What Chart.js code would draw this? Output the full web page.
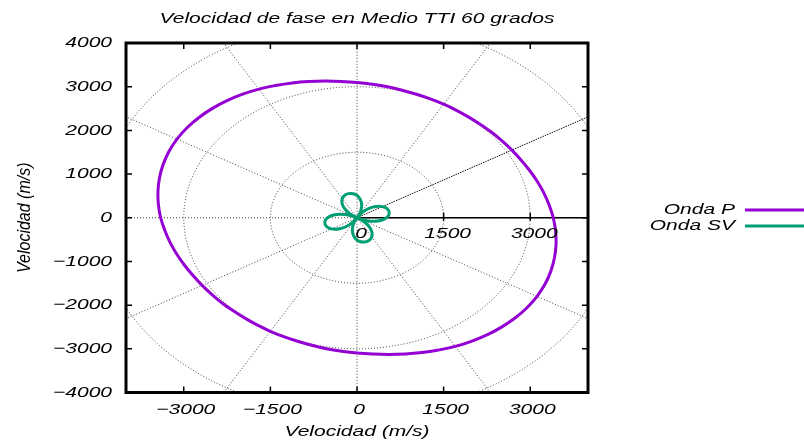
<!DOCTYPE html>
<html>
<head>
<meta charset="utf-8">
<script src="https://cdn.jsdelivr.net/npm/chart.js@4"></script>
<style>
  html, body { margin: 0; padding: 0; background: #ffffff; }
  #wrap { width: 804px; height: 443px; }
</style>
</head>
<body>
<div id="wrap"><canvas id="c" width="804" height="443"></canvas></div>
<script>
// Phase velocity (m/s) against propagation angle (degrees), TTI medium tilted 60 degrees
const anglesP = [0, 5, 10, 15, 20, 25, 30, 35, 40, 45, 50, 55, 60, 65, 70, 75, 80, 85,
                 90, 95, 100, 105, 110, 115, 120, 125, 130, 135, 140, 145, 150, 155, 160, 165, 170, 175,
                 180, 185, 190, 195, 200, 205, 210, 215, 220, 225, 230, 235, 240, 245, 250, 255, 260, 265,
                 270, 275, 280, 285, 290, 295, 300, 305, 310, 315, 320, 325, 330, 335, 340, 345, 350, 355, 360];
const velP    = [3400, 3340, 3285, 3230, 3178, 3133, 3097, 3066, 3043, 3022, 3008, 3002, 3000, 3002, 3008, 3022, 3043, 3066,
                 3097, 3133, 3178, 3230, 3285, 3340, 3400, 3452, 3500, 3540, 3572, 3593, 3600, 3593, 3572, 3540, 3500, 3452,
                 3400, 3340, 3285, 3230, 3178, 3133, 3097, 3066, 3043, 3022, 3008, 3002, 3000, 3002, 3008, 3022, 3043, 3066,
                 3097, 3133, 3178, 3230, 3285, 3340, 3400, 3452, 3500, 3540, 3572, 3593, 3600, 3593, 3572, 3540, 3500, 3452, 3400];

const anglesSV = [0, 5, 10, 15, 20, 25, 30, 35, 40, 45, 50, 55, 60, 65, 70, 75, 80, 85,
                  90, 95, 100, 105, 110, 115, 120, 125, 130, 135, 140, 145, 150, 155, 160, 165, 170, 175,
                  180, 185, 190, 195, 200, 205, 210, 215, 220, 225, 230, 235, 240, 245, 250, 255, 260, 265,
                  270, 275, 280, 285, 290, 295, 300, 305, 310, 315, 320, 325, 330, 335, 340, 345, 350, 355, 360];
const velSV    = [510, 545, 565, 572, 565, 545, 510, 458, 390, 310, 215, 110, 0, 110, 215, 310, 390, 458,
                  510, 545, 565, 572, 565, 545, 510, 458, 390, 310, 215, 110, 0, 110, 215, 310, 390, 458,
                  510, 545, 565, 572, 565, 545, 510, 458, 390, 310, 215, 110, 0, 110, 215, 310, 390, 458,
                  510, 545, 565, 572, 565, 545, 510, 458, 390, 310, 215, 110, 0, 110, 215, 310, 390, 458, 510];

const seriesNames = ['Onda P', 'Onda SV'];
const seriesColors = ['#9400d3', '#009e73'];

const xTicks = [-3000, -1500, 0, 1500, 3000];
const yTicks = [-4000, -3000, -2000, -1000, 0, 1000, 2000, 3000, 4000];
const rTicks = [0, 1500, 3000];
const gridRadii = [1500, 3000, 4500];
const spokeAngles = [0, 30, 60, 90, 120, 150, 180, 210, 240, 270, 300, 330];

const titleText = 'Velocidad de fase en Medio TTI 60 grados';
const xTitle = 'Velocidad (m/s)';
const yTitle = 'Velocidad (m/s)';

function toXY(angles, radii) {
  return angles.map((a, i) => {
    const t = a * Math.PI / 180;
    return { x: radii[i] * Math.cos(t), y: radii[i] * Math.sin(t) };
  });
}

const FONT = 'italic 15px "Liberation Sans", Arial, sans-serif';
const SX = 1.4;
const fmt = v => String(v).replace('-', '\u2212');

function stretchText(ctx, str, x, y, align, sx, font) {
  ctx.save();
  ctx.translate(x, y);
  ctx.scale(sx, 1);
  ctx.font = font || FONT;
  ctx.textAlign = align;
  ctx.textBaseline = 'middle';
  ctx.fillStyle = '#000';
  ctx.fillText(str, 0, 0);
  ctx.restore();
}

// dotted polar grid, radial axis with its labels
const polarGrid = {
  id: 'polarGrid',
  beforeDatasetsDraw(chart) {
    const { ctx, chartArea: a, scales: { x, y } } = chart;
    const cx = x.getPixelForValue(0), cy = y.getPixelForValue(0);
    ctx.save();
    ctx.beginPath();
    ctx.rect(a.left, a.top, a.right - a.left, a.bottom - a.top);
    ctx.clip();
    ctx.lineWidth = 1;
    ctx.setLineDash([1, 2]);
    ctx.strokeStyle = 'rgba(0,0,0,0.75)';
    gridRadii.forEach(r => {
      const rx = x.getPixelForValue(r) - cx;
      const ry = cy - y.getPixelForValue(r);
      ctx.beginPath();
      ctx.ellipse(cx, cy, rx, ry, 0, 0, Math.PI * 2);
      ctx.stroke();
    });
    spokeAngles.forEach(d => {
      const t = d * Math.PI / 180;
      const R = 9000;
      ctx.strokeStyle = d === 30 ? 'rgba(0,0,0,0.95)' : 'rgba(0,0,0,0.75)';
      ctx.setLineDash(d === 30 ? [1.5, 1] : [1, 2]);
      ctx.beginPath();
      ctx.moveTo(cx, cy);
      ctx.lineTo(x.getPixelForValue(R * Math.cos(t)), y.getPixelForValue(R * Math.sin(t)));
      ctx.stroke();
    });
    ctx.setLineDash([]);
    ctx.strokeStyle = '#000';
    ctx.lineWidth = 1.5;
    ctx.beginPath();
    ctx.moveTo(cx, cy);
    ctx.lineTo(a.right, cy);
    ctx.stroke();
    rTicks.forEach(r => {
      const px = x.getPixelForValue(r);
      if (r !== 0) {
        ctx.beginPath();
        ctx.moveTo(px, cy - 5);
        ctx.lineTo(px, cy + 3);
        ctx.stroke();
      }
    });
    ctx.restore();
  },
  afterDatasetsDraw(chart) {
    const { ctx, scales: { x, y } } = chart;
    const cy = y.getPixelForValue(0);
    rTicks.forEach(r => {
      stretchText(ctx, fmt(r), x.getPixelForValue(r) + 4, cy + 16, 'center', SX);
    });
  }
};

// frame with inward ticks on all four sides, tick labels, titles and key
const frameAndText = {
  id: 'frameAndText',
  afterDraw(chart) {
    const { ctx, chartArea: a, scales: { x, y } } = chart;
    ctx.save();
    ctx.strokeStyle = '#000';
    ctx.lineWidth = 1.5;
    const tl = 6;
    xTicks.forEach(v => {
      const px = x.getPixelForValue(v);
      ctx.beginPath();
      ctx.moveTo(px, a.bottom); ctx.lineTo(px, a.bottom - tl);
      ctx.moveTo(px, a.top); ctx.lineTo(px, a.top + tl);
      ctx.stroke();
    });
    yTicks.forEach(v => {
      const py = y.getPixelForValue(v);
      ctx.beginPath();
      ctx.moveTo(a.left, py); ctx.lineTo(a.left + tl, py);
      ctx.moveTo(a.right, py); ctx.lineTo(a.right - tl, py);
      ctx.stroke();
    });
    ctx.lineWidth = 3;
    ctx.strokeRect(a.left, a.top, a.right - a.left, a.bottom - a.top);
    ctx.restore();

    xTicks.forEach(v => stretchText(ctx, fmt(v), x.getPixelForValue(v) + 2, a.bottom + 17, 'center', SX));
    yTicks.forEach(v => stretchText(ctx, fmt(v), 112, y.getPixelForValue(v), 'right', SX));

    const midX = (a.left + a.right) / 2;
    stretchText(ctx, titleText, midX, 19, 'center', SX);
    stretchText(ctx, xTitle, midX, 432, 'center', SX);

    // vertical axis title
    ctx.save();
    ctx.translate(25, (a.top + a.bottom) / 2);
    ctx.rotate(-Math.PI / 2);
    ctx.scale(1, 1.2);
    ctx.font = 'italic 16px "Liberation Sans", Arial, sans-serif';
    ctx.textAlign = 'center';
    ctx.textBaseline = 'middle';
    ctx.fillStyle = '#000';
    ctx.fillText(yTitle, 0, 0);
    ctx.restore();

    // key
    chart.data.datasets.forEach((ds, i) => {
      const ly = 210 + i * 16;
      stretchText(ctx, ds.label, 735, ly, 'right', SX);
      ctx.save();
      ctx.strokeStyle = ds.borderColor;
      ctx.lineWidth = 3;
      ctx.beginPath();
      ctx.moveTo(745, ly);
      ctx.lineTo(804, ly);
      ctx.stroke();
      ctx.restore();
    });
  }
};

new Chart(document.getElementById('c'), {
  type: 'scatter',
  data: {
    datasets: [
      { label: seriesNames[0], data: toXY(anglesP, velP), borderColor: seriesColors[0], backgroundColor: seriesColors[0] },
      { label: seriesNames[1], data: toXY(anglesSV, velSV), borderColor: seriesColors[1], backgroundColor: seriesColors[1] }
    ].map(d => Object.assign(d, { showLine: true, pointRadius: 0, borderWidth: 3, tension: 0.4, fill: false }))
  },
  options: {
    responsive: false,
    animation: false,
    devicePixelRatio: 1,
    layout: { padding: { top: 43, right: 216, left: 0, bottom: 0 } },
    plugins: { legend: { display: false }, title: { display: false }, tooltip: { enabled: false } },
    scales: {
      x: {
        type: 'linear', min: -4000, max: 4000,
        grid: { display: false }, border: { display: false },
        ticks: { display: false },
        afterBuildTicks: s => { s.ticks = xTicks.map(v => ({ value: v })); },
        afterFit: s => { s.height = 50.5; }
      },
      y: {
        type: 'linear', min: -4000, max: 4000,
        grid: { display: false }, border: { display: false },
        ticks: { display: false },
        afterBuildTicks: s => { s.ticks = yTicks.map(v => ({ value: v })); },
        afterFit: s => { s.width = 126; }
      }
    }
  },
  plugins: [polarGrid, frameAndText]
});
</script>
</body>
</html>
